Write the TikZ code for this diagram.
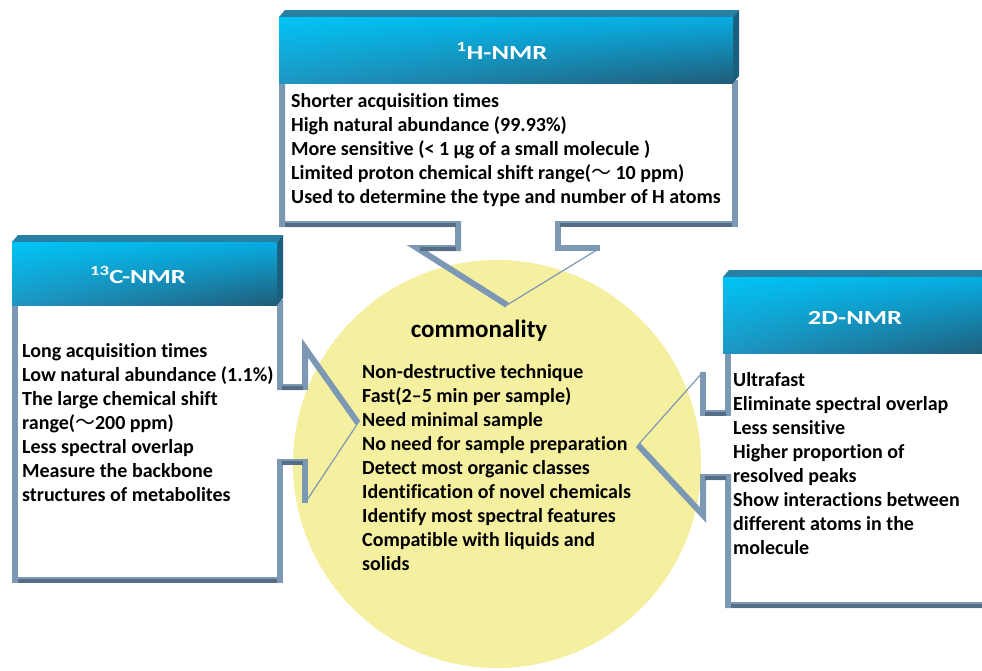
\documentclass[tikz,border=0pt]{standalone}
\usepackage{fontspec}
\usetikzlibrary{shadings}
\setmainfont{Carlito}[Ligatures=NoCommon]
\newfontfamily\hdrfont{Carlito}[FakeStretch=1.33, Ligatures=NoCommon]
\newfontfamily\cjkf{Noto Sans CJK SC}
\newcommand\wtilde{{\cjkf\mdseries ～}}
\definecolor{yel}{RGB}{245,239,160}
\definecolor{frameC}{RGB}{124,152,180}
\definecolor{frameD}{RGB}{86,110,133}
\definecolor{hUL}{RGB}{0,196,245}
\definecolor{hUR}{RGB}{8,172,226}
\definecolor{hLL}{RGB}{30,150,195}
\definecolor{hLR}{RGB}{32,92,120}
\definecolor{hTop}{RGB}{38,128,163}
\definecolor{hSide}{RGB}{26,96,126}
\tikzset{
  frm/.style={draw=frameC, line width=6pt, line join=miter},
  frmdark/.style={draw=frameD, line width=4pt},
  thinfrm/.style={draw=frameC, line width=1.2pt},
  boxfill/.style={fill=white},
  body/.style={anchor=north west, inner sep=0pt, align=left, font=\bfseries\fontsize{20}{24}\selectfont},
  hdrtext/.style={anchor=base, inner sep=0pt, text=white, font=\hdrfont\bfseries\fontsize{20}{24}\selectfont},
}
\newcommand\hdrbar[4]{%
  \fill[hTop] (#1,#2) -- (#1+6,#2-7) -- (#3+6,#2-7) -- (#3,#2) -- cycle;
  \fill[hSide] (#3,#2) -- (#3+6,#2-7) -- (#3+6,#4-7) -- (#3,#4) -- cycle;
  \shade[upper left=hUL, upper right=hUR, lower left=hLL, lower right=hLR] (#1,#2) rectangle (#3,#4);
}
\begin{document}
\begin{tikzpicture}[x=1pt,y=-1pt]
\useasboundingbox (0,0) rectangle (982,670);
\fill[white] (0,0) rectangle (982,670);

% commonality circle
\node[circle, fill=yel, minimum size=408pt, inner sep=0pt] (common) at (497,464) {};

% white box interiors
\fill[boxfill] (282,80) rectangle (735,224);
\fill[boxfill] (15,300) rectangle (280,580);
\fill[boxfill] (728,350) rectangle (990,605);

% 1H frame
\draw[frm] (282,80) -- (282,224) -- (458,224) -- (458,248) -- (417,248) -- (507,305);
\draw[thinfrm] (507,305) -- (600,248);
\draw[frm] (600,248) -- (558,248) -- (558,224) -- (735,224) -- (735,80);
\draw[frmdark] (285,225) -- (456,225) (420,249) -- (456,249) (560,225) -- (732,225);

% 13C frame
\draw[frm] (15,300) -- (15,580) -- (280,580) -- (280,462) -- (305,462) -- (305,503);
\draw[thinfrm] (305,503) -- (358,423);
\draw[frm] (358,423) -- (305,348) -- (305,387) -- (280,387) -- (280,300);
\draw[frmdark] (18,581) -- (277,581) (282,388) -- (303,388) (282,463) -- (303,463);

% 2D frame
\draw[frm] (728,350) -- (728,413) -- (703,413) -- (703,372);
\draw[thinfrm] (703,372) -- (638,445);
\draw[frm] (638,445) -- (703,515) -- (703,477) -- (728,477) -- (728,605) -- (990,605);
\draw[frmdark] (731,606) -- (990,606) (705,414) -- (726,414) (705,478) -- (726,478);

% headers
\hdrbar{279}{17}{733}{83}
\hdrbar{12}{242}{277}{305}
\hdrbar{723}{277}{995}{353}

\node[hdrtext] (h1) at (502,59) {\textsuperscript{1}H-NMR};
\node[hdrtext] (h13) at (138,283) {\textsuperscript{13}C-NMR};
\node[hdrtext] (h2d) at (855,324) {2D-NMR};

% body texts
\node[body] (t1) at (291,90) {\strut Shorter acquisition times\\
High natural abundance (99.93\%)\\
More sensitive (< 1 μg of a small molecule )\\
Limited proton chemical shift range(\wtilde{} 10 ppm)\\
Used to determine the type and number of H atoms};

\node[body] (t13) at (22,340) {\strut Long acquisition times\\
Low natural abundance (1.1\%)\\
The large chemical shift\\
range(\wtilde{}200 ppm)\\
Less spectral overlap\\
Measure the backbone\\
structures of metabolites};

\node[body] (t2d) at (733,369) {\strut Ultrafast\\
Eliminate spectral overlap\\
Less sensitive\\
Higher proportion of\\
resolved peaks\\
Show interactions between\\
different atoms in the\\
molecule};

\node[anchor=base, inner sep=0pt, font=\bfseries\fontsize{25}{28}\selectfont] (ctitle) at (479,337) {commonality};

\node[body] (tc) at (362,361) {\strut Non-destructive technique\\
Fast(2–5 min per sample)\\
Need minimal sample\\
No need for sample preparation\\
Detect most organic classes\\
Identification of novel chemicals\\
Identify most spectral features\\
Compatible with liquids and\\
solids};
\end{tikzpicture}
\end{document}
